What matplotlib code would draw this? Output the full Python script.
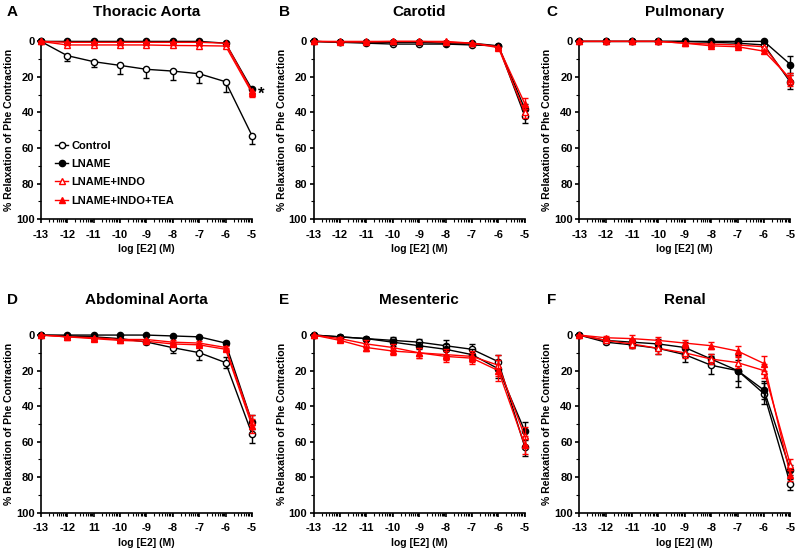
import numpy as np
import matplotlib
matplotlib.use('Agg')
import matplotlib.pyplot as plt
from matplotlib.ticker import FixedLocator
from matplotlib.lines import Line2D

plt.rcParams['font.family'] = ['Liberation Sans', 'DejaVu Sans']
plt.rcParams['font.weight'] = 'bold'

# log [E2] (M)
doses = [-13, -12, -11, -10, -9, -8, -7, -6, -5]
series_names = ['Control', 'LNAME', 'LNAME+INDO', 'LNAME+INDO+TEA']

# % relaxation, one list per series, per vessel
thoracic_mean = [
    [0, 8, 11.4, 13.5, 15.7, 16.7, 18.2, 22.7, 53],
    [0, 0, 0, 0, 0, 0, 0, 1, 27],
    [0, 2, 2, 2, 2, 2.3, 2.4, 2.6, 29],
    [0, 0.5, 0.5, 0.5, 0.5, 0.5, 0.5, 1, 28],
]
thoracic_err = [
    [0, 3, 3, 5, 5, 5, 5, 6, 5],
    [0, 0, 0, 0, 0, 0, 0, 0, 2],
    [0, 0, 0, 0, 0, 0, 0, 0, 2],
    [0, 0, 0, 0, 0, 0, 0, 0, 2],
]
carotid_mean = [
    [0, 0.5, 1, 1.5, 1.5, 1.5, 2, 2.5, 42],
    [0, 0.5, 0.5, 0.5, 0.5, 1, 1, 2.5, 38],
    [0, 0.3, 0.3, 0, 0, 0.5, 1, 3.5, 40],
    [0, 0, 0, 0, 0, 0, 1, 3, 35],
]
carotid_err = [
    [0, 0, 0, 0, 0, 0, 0, 0, 4],
    [0, 0, 0, 0, 0, 0, 0, 0, 3],
    [0, 0, 0, 0, 0, 0, 0, 0, 3],
    [0, 0, 0, 0, 0, 0, 0, 0, 3],
]
pulmonary_mean = [
    [0, 0, 0, 0, 0, 0.5, 1, 2, 23],
    [0, 0, 0, 0, 0, 0, 0, 0, 13],
    [0, 0, 0, 0, 1, 1.5, 2, 3, 22],
    [0, 0, 0, 0, 1, 2.5, 3, 5.5, 21],
]
pulmonary_err = [
    [0, 0, 0, 0, 0, 0, 0, 0, 4],
    [0, 0, 0, 0, 0, 0, 0, 0, 5],
    [0, 0, 0, 0, 0, 0, 0, 0, 3],
    [0, 0, 0, 0, 0, 0, 0, 0, 3],
]
abdominal_mean = [
    [0, 0.5, 1, 2, 3.9, 7.1, 9.9, 15.5, 55.7],
    [0, 0, 0, 0, 0, 0.5, 1, 4.5, 49],
    [0, 1, 1.5, 2.5, 2.5, 4, 4.5, 7, 49],
    [0, 1, 2, 3, 3.5, 5, 5.5, 8, 51],
]
abdominal_err = [
    [0, 0, 0, 0, 1, 3, 4, 3, 5],
    [0, 0, 0, 0, 0, 0, 0, 1, 4],
    [0, 0, 0, 0, 0, 1, 1, 1, 4],
    [0, 0, 0, 0, 0, 1, 1, 1, 4],
]
mesenteric_mean = [
    [0, 1, 2, 3, 4, 6, 8, 15, 63],
    [0, 1, 2, 4, 6, 8, 11, 19, 54],
    [0, 2, 5, 7, 10, 11, 12, 17, 57],
    [0, 3, 7, 9, 10, 12, 13, 20, 62],
]
mesenteric_err = [
    [0, 1, 1, 2, 2, 3, 3, 4, 5],
    [0, 1, 1, 2, 2, 3, 3, 5, 5],
    [0, 1, 2, 2, 3, 3, 3, 6, 5],
    [0, 1, 2, 2, 3, 3, 3, 6, 5],
]
renal_mean = [
    [0, 4, 5.5, 7.5, 11, 17, 20, 33, 84],
    [0, 3, 4, 5, 7, 13.5, 20, 31, 76],
    [0, 3, 5, 7.5, 10, 13.5, 15.5, 20, 73],
    [0, 1.5, 2, 3, 4.5, 6, 9, 16, 79],
]
renal_err = [
    [0, 1, 2, 3, 4, 5, 9, 6, 3],
    [0, 1, 2, 3, 3, 3, 6, 5, 3],
    [0, 1, 2, 3, 3, 3, 3, 4, 3],
    [0, 1, 2, 2, 2, 2, 3, 4, 3],
]

panel_letters = ['A', 'B', 'C', 'D', 'E', 'F']
panel_titles = ['Thoracic Aorta', 'Carotid', 'Pulmonary', 'Abdominal Aorta', 'Mesenteric', 'Renal']
panel_means = [thoracic_mean, carotid_mean, pulmonary_mean, abdominal_mean, mesenteric_mean, renal_mean]
panel_errs = [thoracic_err, carotid_err, pulmonary_err, abdominal_err, mesenteric_err, renal_err]
x_labels = ['-13', '-12', '-11', '-10', '-9', '-8', '-7', '-6', '-5']
x_labels_d = ['-13', '-12', '11', '-10', '-9', '-8', '-7', '-6', '-5']

colors = ['black', 'black', '#ff0000', '#ff0000']
markers = ['o', 'o', '^', '^']
faces = ['white', 'black', 'white', '#ff0000']

fig = plt.figure(figsize=(8, 5.52), dpi=100)

lefts = [0.051, 0.392, 0.724]
bottoms = [0.603, 0.071]
w, h = 0.264, 0.322

minor_x = [k + np.log10(m) for k in range(-13, -5) for m in range(2, 10)]

for i in range(6):
    row, col = divmod(i, 3)
    ax = fig.add_axes([lefts[col], bottoms[row], w, h])
    for s in range(4):
        err = np.array(panel_errs[i][s])
        yerr = [np.zeros_like(err), err] if i == 0 else err
        ax.errorbar(doses, panel_means[i][s], yerr=yerr, color=colors[s],
                    marker=markers[s], markerfacecolor=faces[s], markeredgecolor=colors[s],
                    markersize=4.5, markeredgewidth=1, linewidth=1, elinewidth=1,
                    capsize=2, capthick=1, clip_on=False, zorder=3 + s)
    ax.set_xlim(-13, -5)
    ax.set_ylim(100, 0)
    ax.set_xticks(doses)
    ax.set_xticklabels(x_labels_d if i == 3 else x_labels)
    ax.xaxis.set_minor_locator(FixedLocator(minor_x))
    ax.set_yticks([0, 20, 40, 60, 80, 100])
    ax.yaxis.set_minor_locator(FixedLocator([10, 30, 50, 70, 90]))
    ax.spines['top'].set_visible(False)
    ax.spines['right'].set_visible(False)
    for sp in ['left', 'bottom']:
        ax.spines[sp].set_linewidth(1.2)
    ax.tick_params(axis='both', which='major', length=2.8, width=1.2, labelsize=8, pad=1.8)
    ax.tick_params(axis='x', which='major', pad=4.8)
    ax.tick_params(axis='both', which='minor', length=2, width=0.8)
    ax.set_xlabel('log [E2] (M)', fontsize=7.5, fontweight='bold', labelpad=3)
    ax.set_ylabel('% Relaxation of Phe Contraction', fontsize=7.6, fontweight='bold', labelpad=1.5)
    cx = lefts[col] + w / 2
    fig.text(cx, [0.978, 0.457][row], panel_titles[i],
             fontsize=11, fontweight='bold', ha='center', va='center')
    fig.text([0.015, 0.355, 0.69][col], [0.978, 0.457][row], panel_letters[i],
             fontsize=11, fontweight='bold', ha='center', va='center')
    if i == 0:
        ax.text(-4.78, 29.5, '*', fontsize=12, fontweight='bold', ha='left', va='center')
        handles = [Line2D([], [], color=colors[s], marker=markers[s], markerfacecolor=faces[s],
                          markeredgecolor=colors[s], markersize=4.5, linewidth=1)
                   for s in range(4)]
        ax.legend(handles, series_names, loc='lower left', bbox_to_anchor=(0.02, 0.02),
                  frameon=False, fontsize=8, handlelength=1.2, handletextpad=0.3,
                  labelspacing=0.75)

plt.savefig('out.png', dpi=100)
